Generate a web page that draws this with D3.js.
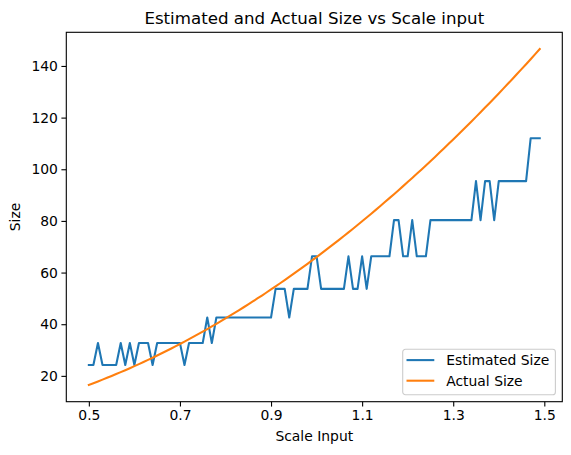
<!DOCTYPE html>
<html>
<head>
<meta charset="utf-8">
<script src="https://cdn.jsdelivr.net/npm/d3@7"></script>
<style>
  body { margin: 0; background: #fff; }
  svg { display: block; font-family: "DejaVu Sans", sans-serif; }
</style>
</head>
<body>
<script>
// scale inputs, one per sample
const scaleInput = [
  0.50, 0.51, 0.52, 0.53, 0.54, 0.55, 0.56, 0.57, 0.58, 0.59,
  0.60, 0.61, 0.62, 0.63, 0.64, 0.65, 0.66, 0.67, 0.68, 0.69,
  0.70, 0.71, 0.72, 0.73, 0.74, 0.75, 0.76, 0.77, 0.78, 0.79,
  0.80, 0.81, 0.82, 0.83, 0.84, 0.85, 0.86, 0.87, 0.88, 0.89,
  0.90, 0.91, 0.92, 0.93, 0.94, 0.95, 0.96, 0.97, 0.98, 0.99,
  1.00, 1.01, 1.02, 1.03, 1.04, 1.05, 1.06, 1.07, 1.08, 1.09,
  1.10, 1.11, 1.12, 1.13, 1.14, 1.15, 1.16, 1.17, 1.18, 1.19,
  1.20, 1.21, 1.22, 1.23, 1.24, 1.25, 1.26, 1.27, 1.28, 1.29,
  1.30, 1.31, 1.32, 1.33, 1.34, 1.35, 1.36, 1.37, 1.38, 1.39,
  1.40, 1.41, 1.42, 1.43, 1.44, 1.45, 1.46, 1.47, 1.48, 1.49
];

// estimated size (read off the blue steps)
const estimatedSize = [
  24.2, 24.2, 32.7, 24.2, 24.2, 24.2, 24.2, 32.7, 24.2, 32.7,
  24.2, 32.7, 32.7, 32.7, 24.2, 32.7, 32.7, 32.7, 32.7, 32.7,
  32.7, 24.2, 32.7, 32.7, 32.7, 32.7, 42.6, 32.7, 42.6, 42.6,
  42.6, 42.6, 42.6, 42.6, 42.6, 42.6, 42.6, 42.6, 42.6, 42.6,
  42.6, 53.7, 53.7, 53.7, 42.6, 53.7, 53.7, 53.7, 53.7, 66.3,
  66.3, 53.7, 53.7, 53.7, 53.7, 53.7, 53.7, 66.3, 53.7, 53.7,
  66.3, 53.7, 66.3, 66.3, 66.3, 66.3, 66.3, 80.3, 80.3, 66.3,
  66.3, 80.3, 66.3, 66.3, 66.3, 80.3, 80.3, 80.3, 80.3, 80.3,
  80.3, 80.3, 80.3, 80.3, 80.3, 95.4, 80.3, 95.4, 95.4, 80.3,
  95.4, 95.4, 95.4, 95.4, 95.4, 95.4, 95.4, 112.0, 112.0, 112.0
];

// actual size (orange curve)
const actualSize = [
  16.50, 17.17, 17.85, 18.54, 19.25, 19.97, 20.70, 21.44, 22.20, 22.97,
  23.76, 24.56, 25.37, 26.20, 27.03, 27.89, 28.75, 29.63, 30.52, 31.42,
  32.34, 33.27, 34.21, 35.17, 36.14, 37.13, 38.12, 39.13, 40.15, 41.19,
  42.24, 43.30, 44.38, 45.47, 46.57, 47.69, 48.81, 49.96, 51.11, 52.28,
  53.46, 54.65, 55.86, 57.08, 58.32, 59.57, 60.83, 62.10, 63.39, 64.69,
  66.00, 67.33, 68.67, 70.02, 71.39, 72.77, 74.16, 75.56, 76.98, 78.41,
  79.86, 81.32, 82.79, 84.28, 85.77, 87.29, 88.81, 90.35, 91.90, 93.46,
  95.04, 96.63, 98.23, 99.85, 101.48, 103.13, 104.78, 106.45, 108.13, 109.83,
  111.54, 113.26, 115.00, 116.75, 118.51, 120.29, 122.07, 123.88, 125.69, 127.52,
  129.36, 131.21, 133.08, 134.96, 136.86, 138.77, 140.69, 142.62, 144.57, 146.53
];

const xTicks = [0.5, 0.7, 0.9, 1.1, 1.3, 1.5];
const yTicks = [20, 40, 60, 80, 100, 120, 140];
const seriesNames = ['Estimated Size', 'Actual Size'];
const seriesColors = ['#1f77b4', '#ff7f0e'];

const width = 571;
const height = 455;
const margin = { top: 32.3, right: 8.7, bottom: 53.3, left: 66.3 };
const plotW = width - margin.left - margin.right;
const plotH = height - margin.top - margin.bottom;

// point sizes at 100 dpi
const lineW = 2.08;
const spineW = 1.1;

const svg = d3.select('body').append('svg')
  .attr('width', width)
  .attr('height', height);

// matplotlib style 5% padding around the data
const xExt = d3.extent(scaleInput);
const xPad = (xExt[1] - xExt[0]) * 0.05;
const allY = estimatedSize.concat(actualSize);
const yExt = d3.extent(allY);
const yPad = (yExt[1] - yExt[0]) * 0.05;

const x = d3.scaleLinear()
  .domain([xExt[0] - xPad, xExt[1] + xPad])
  .range([margin.left, margin.left + plotW]);

const y = d3.scaleLinear()
  .domain([yExt[0] - yPad, yExt[1] + yPad])
  .range([margin.top + plotH, margin.top]);

// lines
const series = [estimatedSize, actualSize];
const line = d3.line()
  .x((d, i) => x(scaleInput[i]))
  .y((d) => y(d));

svg.append('clipPath').attr('id', 'plotclip')
  .append('rect')
  .attr('x', margin.left)
  .attr('y', margin.top)
  .attr('width', plotW)
  .attr('height', plotH);

series.forEach((vals, k) => {
  svg.append('path')
    .datum(vals)
    .attr('clip-path', 'url(#plotclip)')
    .attr('fill', 'none')
    .attr('stroke', seriesColors[k])
    .attr('stroke-width', lineW)
    .attr('stroke-linejoin', 'round')
    .attr('stroke-linecap', 'square')
    .attr('d', line);
});

// axes
const xAxis = d3.axisBottom(x)
  .tickValues(xTicks)
  .tickFormat(d3.format('.1f'))
  .tickSize(4.9)
  .tickPadding(3.5);

const yAxis = d3.axisLeft(y)
  .tickValues(yTicks)
  .tickFormat(d3.format('d'))
  .tickSize(4.9)
  .tickPadding(3.5);

const gx = svg.append('g')
  .attr('transform', `translate(0,${margin.top + plotH})`)
  .call(xAxis);

const gy = svg.append('g')
  .attr('transform', `translate(${margin.left},0)`)
  .call(yAxis);

[gx, gy].forEach((g) => {
  g.select('.domain').remove();
  g.selectAll('.tick line').attr('stroke', '#000').attr('stroke-width', spineW);
  g.selectAll('.tick text')
    .attr('fill', '#000')
    .style('font-family', '"DejaVu Sans", sans-serif')
    .style('font-size', '13.9px');
});

// frame
svg.append('rect')
  .attr('x', margin.left)
  .attr('y', margin.top)
  .attr('width', plotW)
  .attr('height', plotH)
  .attr('fill', 'none')
  .attr('stroke', '#000')
  .attr('stroke-width', spineW);

// title and labels
svg.append('text')
  .attr('x', margin.left + plotW / 2)
  .attr('y', 24)
  .attr('text-anchor', 'middle')
  .style('font-size', '16.67px')
  .text('Estimated and Actual Size vs Scale input');

svg.append('text')
  .attr('x', margin.left + plotW / 2)
  .attr('y', 440.5)
  .attr('text-anchor', 'middle')
  .style('font-size', '13.9px')
  .text('Scale Input');

svg.append('text')
  .attr('transform', `translate(20,${margin.top + plotH / 2}) rotate(-90)`)
  .attr('text-anchor', 'middle')
  .style('font-size', '13.9px')
  .text('Size');

// legend, lower right
const lgW = 152.7;
const lgH = 45.5;
const lgX = margin.left + plotW - 6.9 - lgW;
const lgY = margin.top + plotH - 6.9 - lgH;
const legend = svg.append('g').attr('transform', `translate(${lgX},${lgY})`);

legend.append('rect')
  .attr('width', lgW)
  .attr('height', lgH)
  .attr('rx', 2.8)
  .attr('fill', '#fff')
  .attr('fill-opacity', 0.8)
  .attr('stroke', '#cccccc')
  .attr('stroke-width', spineW);

seriesNames.forEach((name, k) => {
  const cy = 10.8 + k * 20.6;
  legend.append('line')
    .attr('x1', 3.8)
    .attr('x2', 31.6)
    .attr('y1', cy)
    .attr('y2', cy)
    .attr('stroke', seriesColors[k])
    .attr('stroke-width', lineW);
  legend.append('text')
    .attr('x', 43.5)
    .attr('y', cy + 5)
    .style('font-size', '13.9px')
    .text(name);
});
</script>
</body>
</html>
